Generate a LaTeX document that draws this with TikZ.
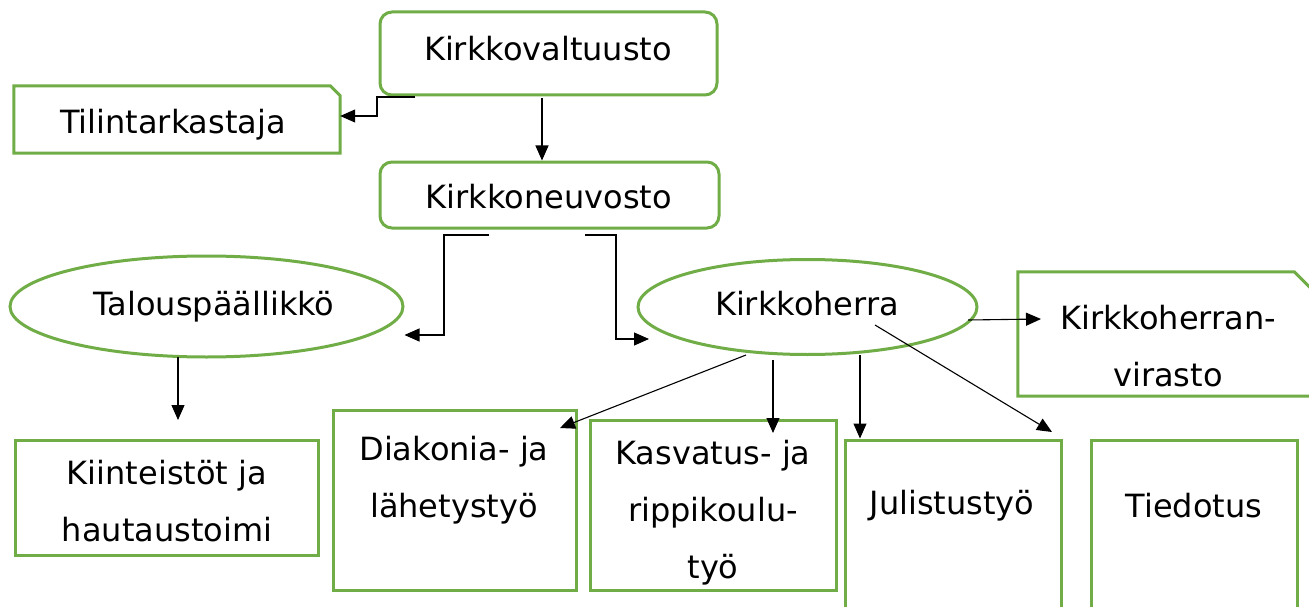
\documentclass[tikz,border=0pt]{standalone}
\usepackage{fontspec}
\setmainfont{DejaVu Sans}
\usetikzlibrary{arrows.meta,calc,shapes.geometric}
\definecolor{grn}{HTML}{70AD47}
\tikzset{
 box/.style={draw=grn,line width=3pt,fill=white,inner sep=0pt},
 rbox/.style={box,rounded corners=12pt},
 ebox/.style={box,ellipse,inner sep=0pt},
 frame/.style={inner sep=0pt,draw=none},
 txt/.style={font=\fontsize{32}{57}\selectfont,align=center,inner sep=0pt},
 conn/.style={line width=1.1pt,-{Triangle[length=15pt,width=13pt]}}
}
\begin{document}
\begin{tikzpicture}[x=1pt,y=-1pt]
\useasboundingbox (0,0) rectangle (1309,607);
\clip (0,0) rectangle (1309,607);
% boxes
\node[rbox,minimum width=337pt,minimum height=83pt] (kv) at (548.5,53.5) {};
\node[frame,minimum width=326pt,minimum height=67pt] (tt) at (177,119.5) {};
\draw[box] (tt.south west) -- (tt.north west) -- ($(tt.north east)+(-10,0)$) -- ($(tt.north east)+(0,10)$) -- (tt.south east) -- cycle;
\node[rbox,minimum width=339pt,minimum height=66pt] (kn) at (549.5,195) {};
\node[ebox,minimum width=393pt,minimum height=101pt] (tp) at (206.5,306.5) {};
\node[ebox,minimum width=339pt,minimum height=95pt] (kh) at (807.5,307) {};
\node[frame,minimum width=302pt,minimum height=124pt] (vi) at (1169,334) {};
\draw[box] (vi.south west) -- (vi.north west) -- ($(vi.north east)+(-26,0)$) -- ($(vi.north east)+(0,26)$) -- (vi.south east) -- cycle;
\node[box,minimum width=303pt,minimum height=115pt] (ki) at (166.5,497.5) {};
\node[box,minimum width=243pt,minimum height=180pt] (di) at (454.5,500) {};
\node[box,minimum width=246pt,minimum height=170pt] (ka) at (713,505) {};
\node[box,minimum width=216pt,minimum height=175pt] (ju) at (953,527.5) {};
\node[box,minimum width=206pt,minimum height=175pt] (ti) at (1194,527.5) {};
% texts
\node[txt] (t1) at (548,49) {Kirkkovaltuusto};
\node[txt] (t2) at (173,125) {Tilintarkastaja};
\node[txt] (t3) at (549,197) {Kirkkoneuvosto};
\node[txt] (t4) at (214,307) {Talouspäällikkö};
\node[txt] (t5) at (807,304) {Kirkkoherra};
\node[txt] (t6) at (1168,346) {Kirkkoherran-\\virasto};
\node[txt] (t7) at (167,501) {Kiinteistöt ja\\hautaustoimi};
\node[txt] (t8) at (454,480) {Diakonia- ja\\lähetystyö};
\begin{scope}
\clip ($(ka.north west)+(1.5,1.5)$) rectangle ($(ka.south east)+(-1.5,-1.5)$);
\node[txt] (t9) at (713,513) {Kasvatus- ja\\rippikoulu-\\työ};
\end{scope}
\node[txt] (t10) at (952,506) {Julistustyö};
\node[txt] (t11) at (1194,506) {Tiedotus};
% connectors
\coordinate (c1) at (415,97);
\draw[conn] (c1) -- (377,97) -- (377,116) -- (tt.east |- 0,116);
\coordinate (c2) at (542,98);
\draw[conn] (c2) -- (kn.north -| 542,0);
\coordinate (c3) at (489,235);
\draw[conn] (c3) -- (444,235) -- (444,335) -- (tp.east |- 0,335);
\coordinate (c4) at (585,235);
\coordinate (e4) at (649,339);
\draw[conn] (c4) -- (616,235) -- (616,339) -- (e4);
\coordinate (c5) at (178,357);
\coordinate (e5) at (178,420);
\draw[conn] (c5) -- (e5);
\coordinate (c6) at (968,320);
\coordinate (e6) at (1041,319);
\draw[conn] (c6) -- (e6);
\coordinate (c7) at (746,355);
\coordinate (e7) at (560,428);
\draw[conn] (c7) -- (e7);
\coordinate (c8) at (773,360);
\coordinate (e8) at (773,433);
\draw[conn] (c8) -- (e8);
\coordinate (c9) at (860,355);
\draw[conn] (c9) -- (ju.north -| 860,0);
\coordinate (c10) at (875,325);
\coordinate (e10) at (1052,432);
\draw[conn] (c10) -- (e10);
\end{tikzpicture}
\end{document}
